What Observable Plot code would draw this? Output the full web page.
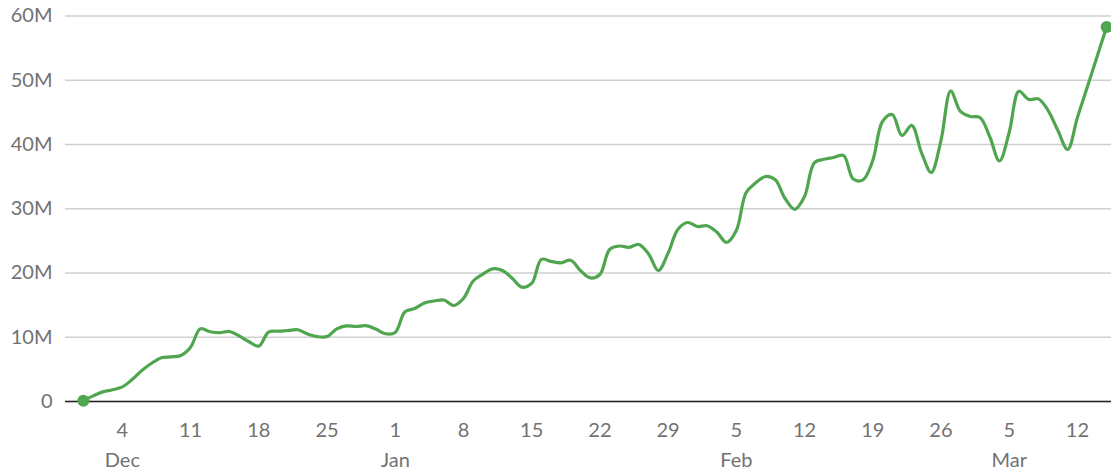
<!DOCTYPE html>
<html><head><meta charset="utf-8">
<script src="https://cdn.jsdelivr.net/npm/d3@7"></script>
<script src="https://cdn.jsdelivr.net/npm/@observablehq/plot@0.6"></script>
<style>
html,body{margin:0;padding:0;background:#fff;}
</style></head><body><div id="chart"></div>
<script>
// Daily values (millions), starting at startDate
const startDate = "2020-11-30";
const values = [
  0.1, 0.87, 1.5, 1.82, 2.27, 3.42, 4.82, 5.95, 6.82, 6.94,
  7.16, 8.45, 11.3, 10.86, 10.7, 10.9, 10.2, 9.3, 8.62, 10.8,
  10.94, 11.05, 11.17, 10.52, 10.1, 10.1, 11.3, 11.77, 11.67, 11.8,
  11.27, 10.54, 10.75, 13.96, 14.47, 15.33, 15.64, 15.8, 14.94, 16.03,
  18.75, 19.83, 20.64, 20.39, 19.19, 17.8, 18.37, 22.13, 21.8, 21.59,
  21.98, 20.39, 19.24, 19.77, 23.66, 24.2, 24.0, 24.44, 22.96, 20.39,
  23.1, 26.77, 27.86, 27.24, 27.35, 26.37, 24.75, 26.6, 32.5, 34.04,
  35.02, 34.5, 31.6, 29.9, 31.9, 37.15, 37.7, 37.98, 38.3, 34.63,
  34.5, 37.5, 43.58, 44.67, 41.4, 42.96, 38.75, 35.64, 40.62, 48.33,
  45.14, 44.36, 44.2, 41.25, 37.43, 41.87, 48.28, 47.0, 47.1, 45.29,
  42.18, 39.22, 44.2, 48.87, 53.59, 58.3
];
const tickDates = [
  "2020-12-04","2020-12-11","2020-12-18","2020-12-25",
  "2021-01-01","2021-01-08","2021-01-15","2021-01-22","2021-01-29",
  "2021-02-05","2021-02-12","2021-02-19","2021-02-26",
  "2021-03-05","2021-03-12"
];
const yTicks = [0, 10, 20, 30, 40, 50, 60];
const yTickLabels = ["0", "10M", "20M", "30M", "40M", "50M", "60M"];

const start = new Date(startDate);
const data = values.map((v, i) => ({date: d3.utcDay.offset(start, i), value: v}));
const ticks = tickDates.map(s => new Date(s));
const green = "#4fa64f";

const chart = Plot.plot({
  width: 1111,
  height: 471,
  marginTop: 15.5,
  marginBottom: 70,
  marginLeft: 65,
  marginRight: 0,
  style: {fontFamily: "Lato, 'Noto Sans', sans-serif", fontSize: "20px", color: "#727272", background: "#fff"},
  x: {type: "utc", domain: [d3.utcHour.offset(start, -43.6), d3.utcHour.offset(start, 105.5 * 24)]},
  y: {domain: [0, 60]},
  marks: [
    Plot.gridY(yTicks, {stroke: "#cfcfcf", strokeOpacity: 1, strokeWidth: 1.6}),
    Plot.ruleY([0], {stroke: "#222", strokeWidth: 1.6}),
    Plot.axisY({ticks: yTicks, tickFormat: d => yTickLabels[yTicks.indexOf(d)], tickSize: 0, tickPadding: 13, label: null, fontSize: 20}),
    Plot.axisX({ticks, tickFormat: d3.utcFormat("%-d"), tickSize: 0, tickPadding: 21, label: null, fontSize: 20}),
    Plot.axisX({ticks, tickFormat: d => d.getUTCDate() <= 7 ? d3.utcFormat("%b")(d) : "", tickSize: 0, tickPadding: 51, label: null, fontSize: 20}),
    Plot.lineY(data, {x: "date", y: "value", stroke: green, strokeWidth: 3.2, curve: "catmull-rom"}),
    Plot.dot([data[0], data[data.length - 1]], {x: "date", y: "value", r: 6, fill: green})
  ]
});
document.getElementById("chart").appendChild(chart);
</script>
</body></html>
